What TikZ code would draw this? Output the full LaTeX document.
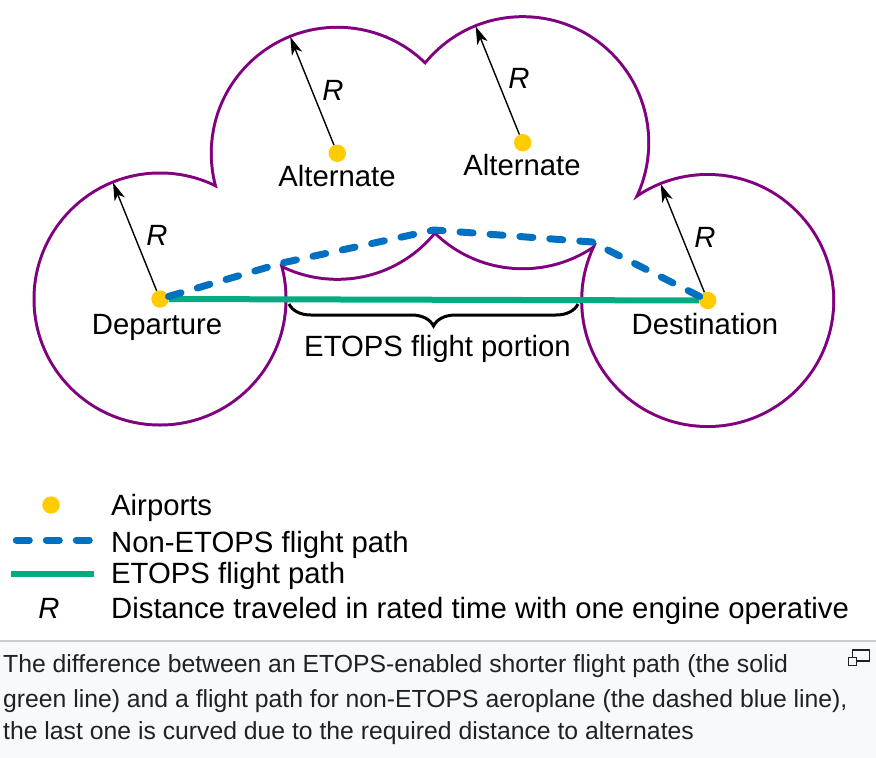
\documentclass[tikz,border=0pt]{standalone}
\usepackage{fontspec}
\setmainfont{Liberation Sans}
\usetikzlibrary{arrows.meta,decorations.pathreplacing,calc}
\definecolor{rpurple}{HTML}{800080}
\definecolor{ryellow}{HTML}{FFCC00}
\definecolor{rgreen}{HTML}{00AC80}
\definecolor{rblue}{HTML}{0070C0}
\definecolor{capbg}{HTML}{F8F9FA}
\definecolor{capline}{HTML}{C8CCD1}
\definecolor{captext}{HTML}{202122}
\begin{document}
\begin{tikzpicture}[x=1pt,y=-1pt,
  airport/.style={circle, fill=ryellow, minimum size=17.4pt, inner sep=0pt},
  lbl/.style={font=\fontsize{29.3}{34}\selectfont, inner sep=0pt, anchor=base},
  rlbl/.style={font=\fontsize{29.3}{34}\selectfont\itshape, inner sep=0pt, anchor=base},
  leglbl/.style={font=\fontsize{29.3}{34}\selectfont, inner sep=0pt, anchor=base west},
  caplbl/.style={font=\fontsize{24.75}{30}\selectfont, text=captext, inner sep=0pt, anchor=base west},
  radiusarrow/.style={-{Stealth[length=18pt,width=11pt,inset=5pt]}, line width=1.4pt},
  rangeline/.style={rpurple, line width=6pt},
  nonetops/.style={rblue, line width=7pt, line cap=round, line join=round, dash pattern=on 13pt off 17pt},
  etops/.style={rgreen, line width=6pt}
]
\useasboundingbox (0,0) rectangle (876,758);
% caption area
\fill[capbg] (0,641) rectangle (876,758);
\draw[capline, line width=2pt] (0,641) -- (876,641);

% centres
\coordinate (c1) at (160,299);
\coordinate (c2) at (337.3,153.3);
\coordinate (c3) at (522.7,142.7);
\coordinate (c4) at (707.7,300.5);

% union outline of ranges
\draw[rangeline] (c1) circle[radius=124.5pt] (c2) circle[radius=124.5pt]
                 (c3) circle[radius=124.5pt] (c4) circle[radius=124.5pt];
\fill[white] (c1) circle[radius=124.5pt] (c2) circle[radius=124.5pt]
             (c3) circle[radius=124.5pt] (c4) circle[radius=124.5pt];

% airports
\node[airport] (dep) at (c1) {};
\node[airport] (alt1) at (c2) {};
\node[airport] (alt2) at (c3) {};
\node[airport] (dst) at (c4) {};

% flight paths
\coordinate (p1) at (282,263);
\coordinate (p2) at (434,230);
\coordinate (p3) at (592,242);
\draw[etops] (dep) -- (dst);
\draw[nonetops] (dep) -- (p1) -- (p2) -- (p3) -- (dst);

% radius arrows
\coordinate (t1) at ($(c1)+(-112:125.5)$);
\coordinate (t2) at ($(c2)+(-112:125.5)$);
\coordinate (t3) at ($(c3)+(-112:125.5)$);
\coordinate (t4) at ($(c4)+(-112:125.5)$);
\draw[radiusarrow] (dep) -- (t1);
\draw[radiusarrow] (alt1) -- (t2);
\draw[radiusarrow] (alt2) -- (t3);
\draw[radiusarrow] (dst) -- (t4);

% labels
\node[lbl] (ldep) at (157,334) {Departure};
\node[lbl] (lalt1) at (337,186.7) {Alternate};
\node[lbl] (lalt2) at (522,175) {Alternate};
\node[lbl] (ldst) at (705,334) {Destination};
\node[rlbl] (r1) at (157,245) {R};
\node[rlbl] (r2) at (333,100) {R};
\node[rlbl] (r3) at (519,88) {R};
\node[rlbl] (r4) at (705,247) {R};

% brace
\coordinate (bl) at (289,304);
\coordinate (br) at (578,304);
\draw[decorate, decoration={brace,mirror,amplitude=22pt}, line width=3pt] (bl) -- (br);
\node[lbl] (portion) at (437.5,356.7) {ETOPS flight portion};

% legend
\node[airport] (legdot) at (51,505) {};
\coordinate (lda) at (16.3,540);
\coordinate (ldb) at (90.5,540);
\draw[nonetops] (lda) -- (ldb);
\coordinate (lga) at (11,574);
\coordinate (lgb) at (94,574);
\draw[etops] (lga) -- (lgb);
\node[rlbl] (legr) at (49,618) {R};
\node[leglbl] (leg1) at (111,515) {Airports};
\node[leglbl] (leg2) at (111,552) {Non-ETOPS flight path};
\node[leglbl] (leg3) at (111,583) {ETOPS flight path};
\node[leglbl] (leg4) at (111,618) {Distance traveled in rated time with one engine operative};

% caption
\node[caplbl] (cap1) at (3,672.7) {The difference between an ETOPS-enabled shorter flight path (the solid};
\node[caplbl] (cap2) at (3,707.7) {green line) and a flight path for non-ETOPS aeroplane (the dashed blue line),};
\node[caplbl] (cap3) at (3,739.5) {the last one is curved due to the required distance to alternates};

% enlarge icon
\draw[captext, line width=1.3pt] (852.7,650) rectangle (869.3,661);
\filldraw[fill=capbg, draw=captext, line width=1.3pt] (848.3,657.7) rectangle (856.7,665.3);
\end{tikzpicture}
\end{document}
